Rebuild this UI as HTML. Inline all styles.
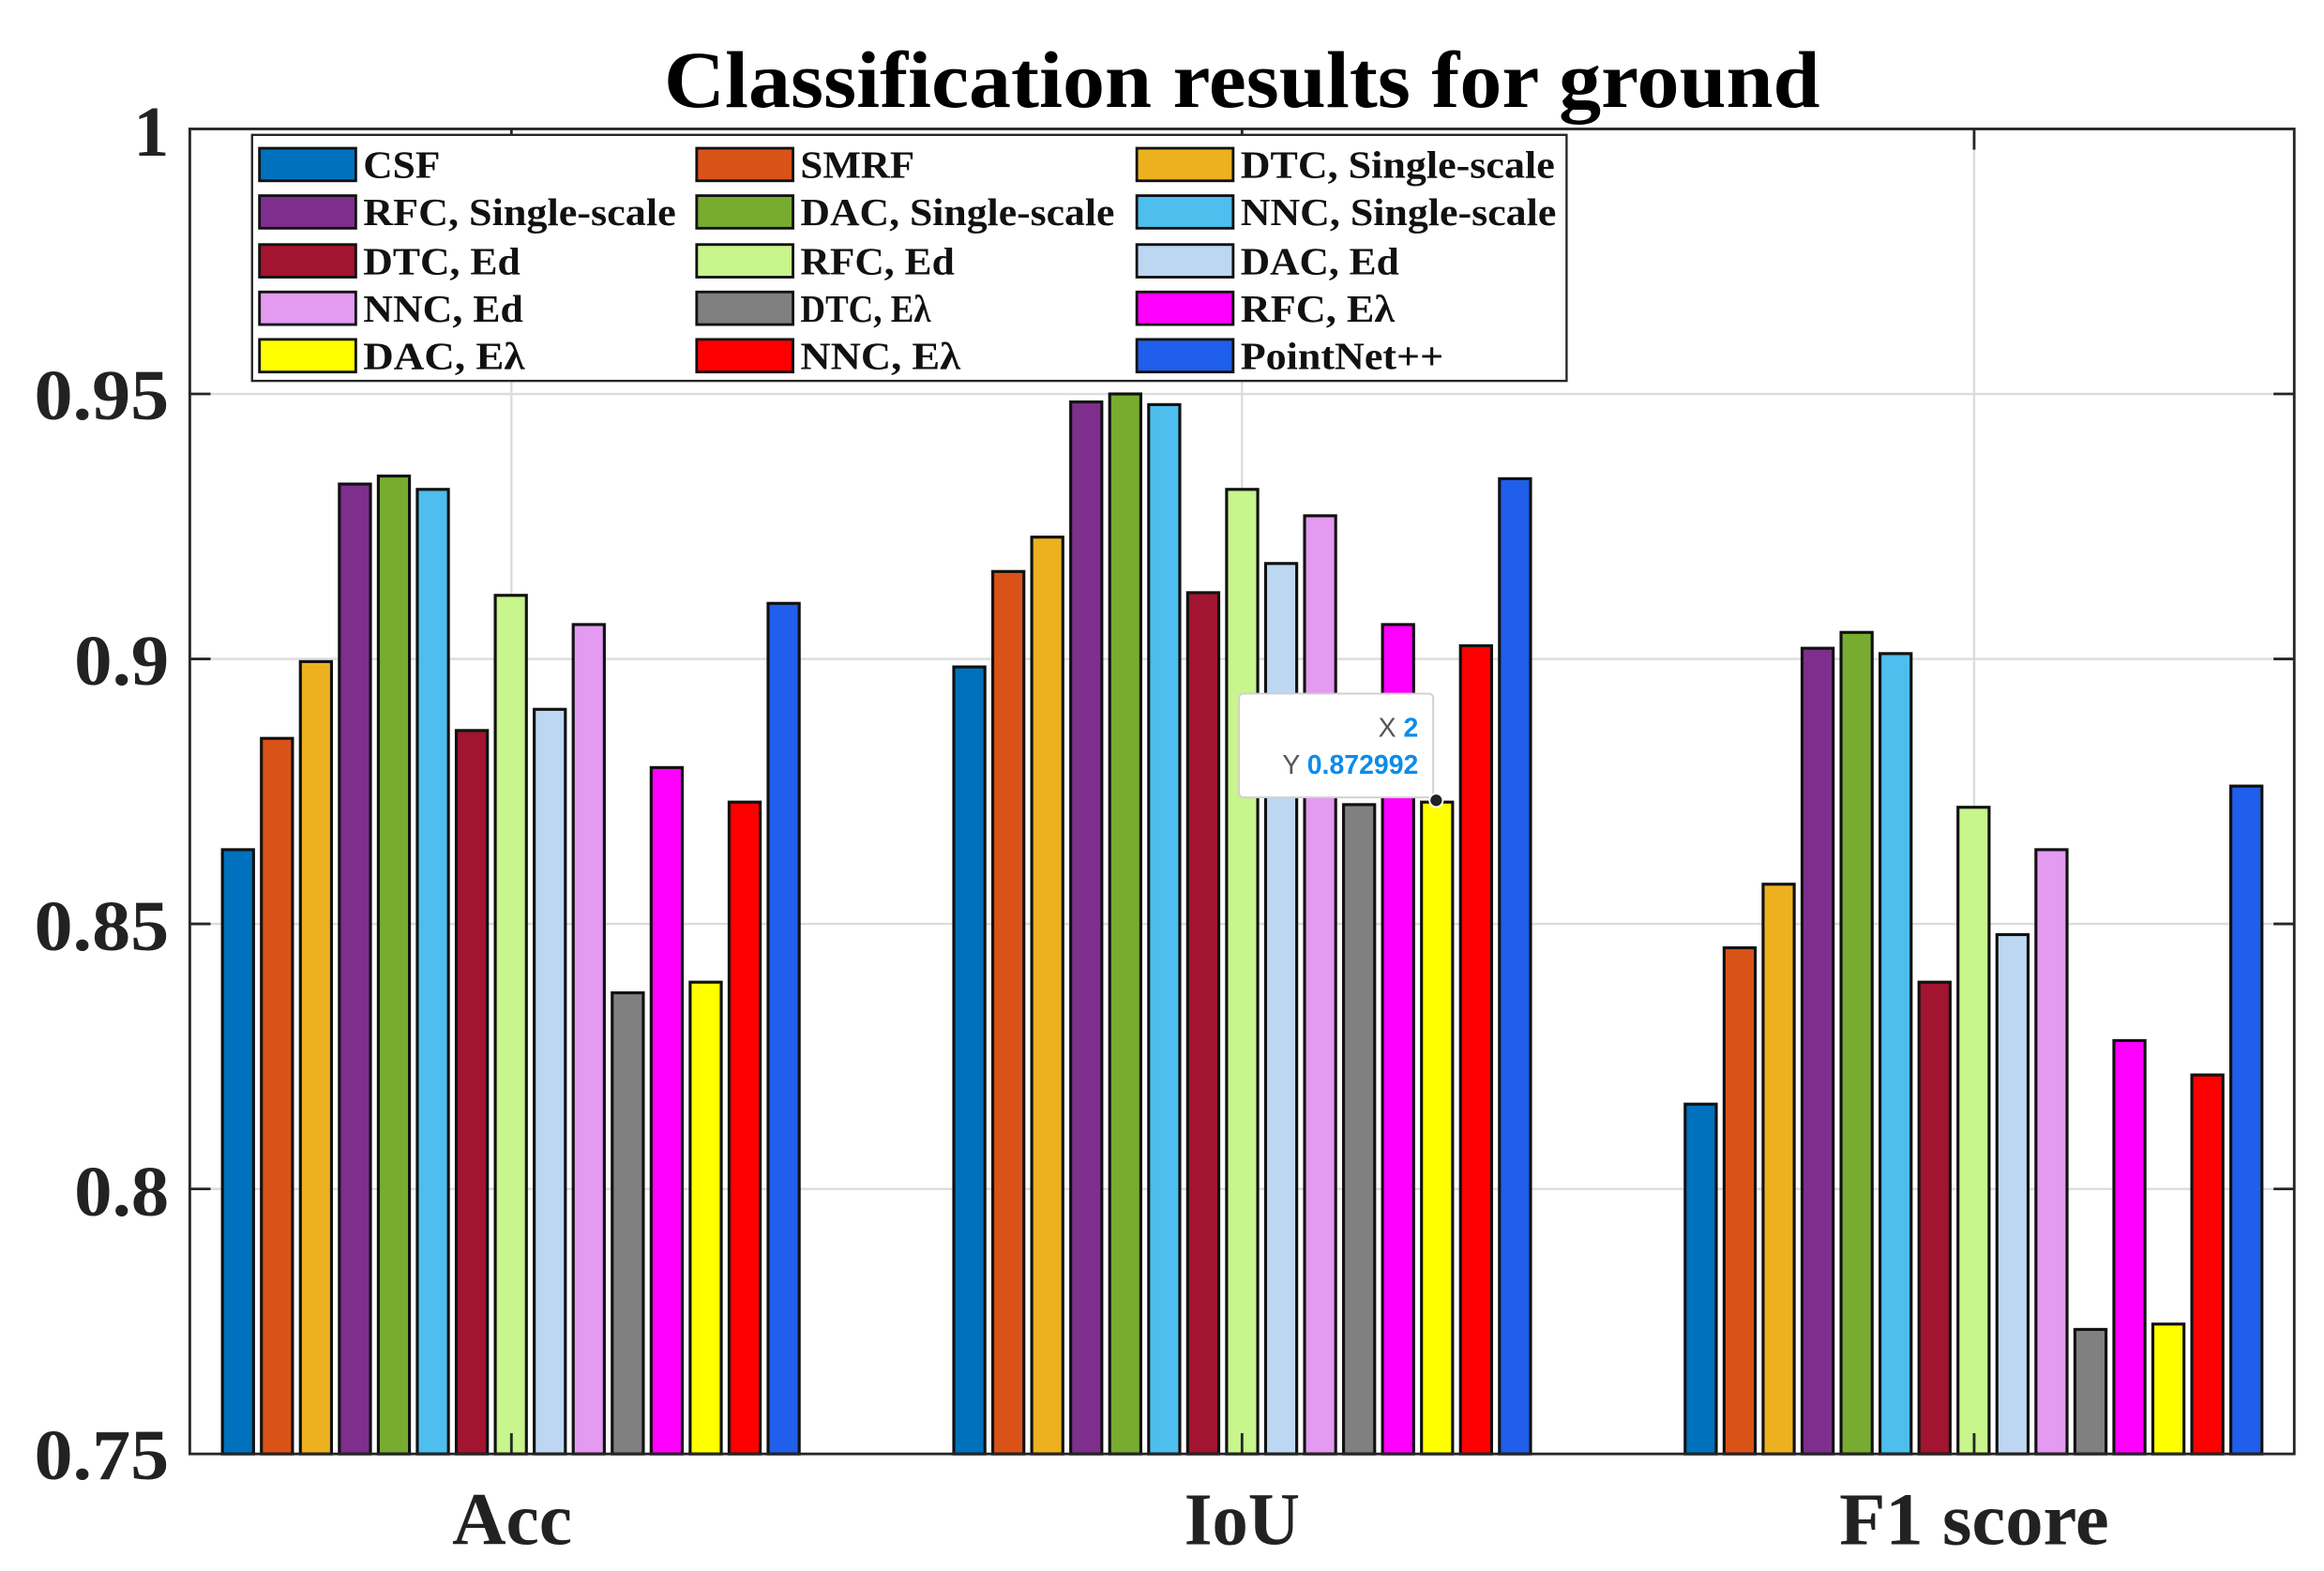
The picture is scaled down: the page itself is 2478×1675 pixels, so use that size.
<!DOCTYPE html>
<html><head><meta charset="utf-8"><style>html,body{margin:0;padding:0;background:#fff}svg{display:block}</style></head>
<body>
<svg width="2478" height="1675" viewBox="0 0 1568 1060" xmlns="http://www.w3.org/2000/svg" font-family="Liberation Serif, serif" font-weight="bold">
<rect width="1568" height="1060" fill="#fff"/>
<g stroke="#dcdcdc" stroke-width="1.5">
<line x1="128" x2="1548" y1="265.8" y2="265.8"/><line x1="128" x2="1548" y1="444.6" y2="444.6"/><line x1="128" x2="1548" y1="623.4" y2="623.4"/><line x1="128" x2="1548" y1="802.2" y2="802.2"/>
<line x1="345" x2="345" y1="87" y2="981"/><line x1="838" x2="838" y1="87" y2="981"/><line x1="1332" x2="1332" y1="87" y2="981"/>
</g>
<g stroke="#111" stroke-width="2">
<g transform="translate(150,0)">
<rect x="0" y="573.3" width="21" height="407.7" fill="#0072BD"/>
<rect x="26.3" y="498.2" width="21" height="482.8" fill="#D95319"/>
<rect x="52.6" y="446.4" width="21" height="534.6" fill="#EDB120"/>
<rect x="78.9" y="326.6" width="21" height="654.4" fill="#7E2F8E"/>
<rect x="105.2" y="321.2" width="21" height="659.8" fill="#77AC30"/>
<rect x="131.5" y="330.2" width="21" height="650.8" fill="#4DBEEE"/>
<rect x="157.8" y="492.9" width="21" height="488.1" fill="#A2142F"/>
<rect x="184.1" y="401.7" width="21" height="579.3" fill="#C8F58C"/>
<rect x="210.4" y="478.6" width="21" height="502.4" fill="#BDD7F2"/>
<rect x="236.7" y="421.4" width="21" height="559.6" fill="#E39AF0"/>
<rect x="263" y="669.9" width="21" height="311.1" fill="#808080"/>
<rect x="289.3" y="517.9" width="21" height="463.1" fill="#FF00FF"/>
<rect x="315.6" y="662.7" width="21" height="318.3" fill="#FFFF00"/>
<rect x="341.9" y="541.2" width="21" height="439.8" fill="#FF0000"/>
<rect x="368.2" y="407.1" width="21" height="573.9" fill="#1F5FEB"/>
</g>
<g transform="translate(643.5,0)">
<rect x="0" y="450" width="21" height="531" fill="#0072BD"/>
<rect x="26.3" y="385.6" width="21" height="595.4" fill="#D95319"/>
<rect x="52.6" y="362.4" width="21" height="618.6" fill="#EDB120"/>
<rect x="78.9" y="271.2" width="21" height="709.8" fill="#7E2F8E"/>
<rect x="105.2" y="265.8" width="21" height="715.2" fill="#77AC30"/>
<rect x="131.5" y="273" width="21" height="708" fill="#4DBEEE"/>
<rect x="157.8" y="399.9" width="21" height="581.1" fill="#A2142F"/>
<rect x="184.1" y="330.2" width="21" height="650.8" fill="#C8F58C"/>
<rect x="210.4" y="380.2" width="21" height="600.8" fill="#BDD7F2"/>
<rect x="236.7" y="348" width="21" height="633" fill="#E39AF0"/>
<rect x="263" y="542.9" width="21" height="438.1" fill="#808080"/>
<rect x="289.3" y="421.4" width="21" height="559.6" fill="#FF00FF"/>
<rect x="315.6" y="541.2" width="21" height="439.8" fill="#FFFF00"/>
<rect x="341.9" y="435.7" width="21" height="545.3" fill="#FF0000"/>
<rect x="368.2" y="323" width="21" height="658" fill="#1F5FEB"/>
</g>
<g transform="translate(1137,0)">
<rect x="0" y="745" width="21" height="236" fill="#0072BD"/>
<rect x="26.3" y="639.5" width="21" height="341.5" fill="#D95319"/>
<rect x="52.6" y="596.6" width="21" height="384.4" fill="#EDB120"/>
<rect x="78.9" y="437.4" width="21" height="543.6" fill="#7E2F8E"/>
<rect x="105.2" y="426.7" width="21" height="554.3" fill="#77AC30"/>
<rect x="131.5" y="441" width="21" height="540" fill="#4DBEEE"/>
<rect x="157.8" y="662.7" width="21" height="318.3" fill="#A2142F"/>
<rect x="184.1" y="544.7" width="21" height="436.3" fill="#C8F58C"/>
<rect x="210.4" y="630.6" width="21" height="350.4" fill="#BDD7F2"/>
<rect x="236.7" y="573.3" width="21" height="407.7" fill="#E39AF0"/>
<rect x="263" y="897" width="21" height="84" fill="#808080"/>
<rect x="289.3" y="702.1" width="21" height="278.9" fill="#FF00FF"/>
<rect x="315.6" y="893.4" width="21" height="87.6" fill="#FFFF00"/>
<rect x="341.9" y="725.3" width="21" height="255.7" fill="#FF0000"/>
<rect x="368.2" y="530.4" width="21" height="450.6" fill="#1F5FEB"/>
</g>
</g>
<rect x="128" y="87" width="1420" height="894" fill="none" stroke="#262626" stroke-width="1.8"/>
<g stroke="#262626" stroke-width="1.8">
<line x1="128" x2="142" y1="265.8" y2="265.8"/><line x1="128" x2="142" y1="444.6" y2="444.6"/><line x1="128" x2="142" y1="623.4" y2="623.4"/><line x1="128" x2="142" y1="802.2" y2="802.2"/>
<line x1="1534" x2="1548" y1="265.8" y2="265.8"/><line x1="1534" x2="1548" y1="444.6" y2="444.6"/><line x1="1534" x2="1548" y1="623.4" y2="623.4"/><line x1="1534" x2="1548" y1="802.2" y2="802.2"/>
<line x1="345" x2="345" y1="87" y2="101"/><line x1="838" x2="838" y1="87" y2="101"/><line x1="1332" x2="1332" y1="87" y2="101"/>
<line x1="345" x2="345" y1="967" y2="981"/><line x1="838" x2="838" y1="967" y2="981"/><line x1="1332" x2="1332" y1="967" y2="981"/>
</g>
<g font-size="48" fill="#222" text-anchor="end" lengthAdjust="spacingAndGlyphs">
<text x="114" y="105">1</text>
<text x="114" y="283" textLength="91" lengthAdjust="spacingAndGlyphs">0.95</text>
<text x="114" y="462" textLength="64" lengthAdjust="spacingAndGlyphs">0.9</text>
<text x="114" y="641" textLength="91" lengthAdjust="spacingAndGlyphs">0.85</text>
<text x="114" y="820" textLength="64" lengthAdjust="spacingAndGlyphs">0.8</text>
<text x="114" y="998" textLength="91" lengthAdjust="spacingAndGlyphs">0.75</text>
</g>
<g font-size="50" fill="#222">
<text x="305" y="1042" textLength="81" lengthAdjust="spacingAndGlyphs">Acc</text>
<text x="799" y="1042" textLength="78" lengthAdjust="spacingAndGlyphs">IoU</text>
<text x="1241" y="1042" textLength="182" lengthAdjust="spacingAndGlyphs">F1 score</text>
</g>
<text x="448" y="72" font-size="54" textLength="780" lengthAdjust="spacingAndGlyphs" fill="#000">Classification results for ground</text>
<rect x="170" y="91" width="887" height="166" fill="#fff" stroke="#262626" stroke-width="1.5"/>
<g stroke="#111" stroke-width="1.8">
<rect x="175" y="100" width="65" height="22" fill="#0072BD"/>
<rect x="470" y="100" width="65" height="22" fill="#D95319"/>
<rect x="767" y="100" width="65" height="22" fill="#EDB120"/>
<rect x="175" y="132" width="65" height="22" fill="#7E2F8E"/>
<rect x="470" y="132" width="65" height="22" fill="#77AC30"/>
<rect x="767" y="132" width="65" height="22" fill="#4DBEEE"/>
<rect x="175" y="165" width="65" height="22" fill="#A2142F"/>
<rect x="470" y="165" width="65" height="22" fill="#C8F58C"/>
<rect x="767" y="165" width="65" height="22" fill="#BDD7F2"/>
<rect x="175" y="197" width="65" height="22" fill="#E39AF0"/>
<rect x="470" y="197" width="65" height="22" fill="#808080"/>
<rect x="767" y="197" width="65" height="22" fill="#FF00FF"/>
<rect x="175" y="229" width="65" height="22" fill="#FFFF00"/>
<rect x="470" y="229" width="65" height="22" fill="#FF0000"/>
<rect x="767" y="229" width="65" height="22" fill="#1F5FEB"/>
</g>
<g font-size="26" fill="#111">
<text x="245" y="120" textLength="52" lengthAdjust="spacingAndGlyphs">CSF</text><text x="540" y="120" textLength="77" lengthAdjust="spacingAndGlyphs">SMRF</text><text x="837" y="120" textLength="212" lengthAdjust="spacingAndGlyphs">DTC, Single-scale</text>
<text x="245" y="152" textLength="211" lengthAdjust="spacingAndGlyphs">RFC, Single-scale</text><text x="540" y="152" textLength="212" lengthAdjust="spacingAndGlyphs">DAC, Single-scale</text><text x="837" y="152" textLength="213" lengthAdjust="spacingAndGlyphs">NNC, Single-scale</text>
<text x="245" y="185" textLength="106" lengthAdjust="spacingAndGlyphs">DTC, Ed</text><text x="540" y="185" textLength="104" lengthAdjust="spacingAndGlyphs">RFC, Ed</text><text x="837" y="185" textLength="107" lengthAdjust="spacingAndGlyphs">DAC, Ed</text>
<text x="245" y="217" textLength="108" lengthAdjust="spacingAndGlyphs">NNC, Ed</text><text x="540" y="217" textLength="88" lengthAdjust="spacingAndGlyphs">DTC, Eλ</text><text x="837" y="217" textLength="104" lengthAdjust="spacingAndGlyphs">RFC, Eλ</text>
<text x="245" y="249" textLength="109" lengthAdjust="spacingAndGlyphs">DAC, Eλ</text><text x="540" y="249" textLength="108" lengthAdjust="spacingAndGlyphs">NNC, Eλ</text><text x="837" y="249" textLength="137" lengthAdjust="spacingAndGlyphs">PointNet++</text>
</g>
<rect x="836" y="468" width="131" height="70" rx="3" fill="#fff" stroke="#cfcfcf" stroke-width="1.2"/>
<g font-family="Liberation Sans, sans-serif" font-size="18" text-anchor="end" font-weight="normal">
<text x="957" y="497" fill="#555">X <tspan fill="#0c8ce9" font-weight="bold">2</tspan></text>
<text x="957" y="522" fill="#555">Y <tspan fill="#0c8ce9" font-weight="bold">0.872992</tspan></text>
</g>
<circle cx="969" cy="540" r="4.5" fill="#222" stroke="#fff" stroke-width="1.2"/>
</svg>
</body></html>
